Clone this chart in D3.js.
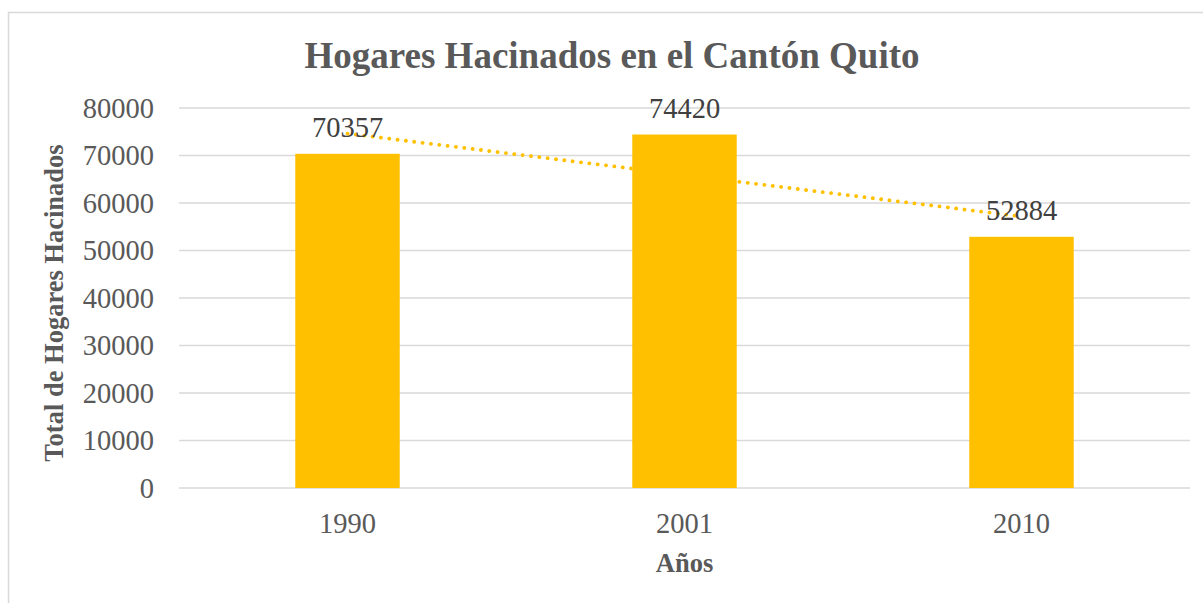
<!DOCTYPE html>
<html>
<head>
<meta charset="utf-8">
<script src="https://cdn.jsdelivr.net/npm/d3@7"></script>
<style>
  body { margin: 0; background: #fff; }
  svg { display: block; }
  text { font-family: "Liberation Serif", "Times New Roman", serif; }
</style>
</head>
<body>
<svg width="1203" height="603"></svg>
<script>
// data
let years = ["1990", "2001", "2010"]
let hogares = [70357, 74420, 52884]
let trendEnds = [74620, 57150] // excel linear trendline, first and last year
let yTicks = [0, 10000, 20000, 30000, 40000, 50000, 60000, 70000, 80000]

let svg = d3.select("svg")
let margin = {left: 179, right: 1190, top: 108, bottom: 488}

// chart frame
svg.append("rect")
    .attr("x", 8.5).attr("y", 12.5)
    .attr("width", 1203).attr("height", 610)
    .attr("fill", "none")
    .attr("stroke", "#d9d9d9")
    .attr("stroke-width", 1.5)

let x = d3.scaleBand()
    .domain(years)
    .range([margin.left, margin.right])
    .paddingInner(0.69)
    .paddingOuter(0.345)

let y = d3.scaleLinear()
    .domain([0, 80000])
    .range([margin.bottom, margin.top])

// gridlines
svg.append("g")
    .selectAll("line")
    .data(yTicks)
    .join("line")
    .attr("x1", margin.left).attr("x2", margin.right)
    .attr("y1", d => y(d)).attr("y2", d => y(d))
    .attr("stroke", "#d9d9d9")
    .attr("stroke-width", 1.5)

// y axis labels
let yAxis = svg.append("g")
    .attr("transform", `translate(${margin.left - 25},0)`)
    .call(d3.axisLeft(y).tickValues(yTicks).tickSize(0).tickPadding(0).tickFormat(d3.format("d")))
yAxis.select(".domain").remove()
yAxis.selectAll("text")
    .attr("font-size", 28.5)
    .attr("fill", "#595959")
    .attr("dy", "0.33em")

// x axis labels
let xAxis = svg.append("g")
    .attr("transform", `translate(0,${margin.bottom})`)
    .call(d3.axisBottom(x).tickSize(0).tickPadding(0))
xAxis.select(".domain").remove()
xAxis.selectAll("text")
    .attr("font-size", 28.5)
    .attr("fill", "#595959")
    .attr("dy", null)
    .attr("y", 45)

// bars
svg.append("g")
    .selectAll("rect")
    .data(hogares)
    .join("rect")
    .attr("x", (d, i) => x(years[i]))
    .attr("y", d => y(d))
    .attr("width", x.bandwidth())
    .attr("height", d => y(0) - y(d))
    .attr("fill", "#ffc000")

// trendline
let trendX = [years[0], years[years.length - 1]]
svg.append("path")
    .datum(trendEnds)
    .attr("d", d3.line()
        .x((d, i) => x(trendX[i]) + x.bandwidth() / 2)
        .y(d => y(d)))
    .attr("fill", "none")
    .attr("stroke", "#ffc000")
    .attr("stroke-width", 3.8)
    .attr("stroke-linecap", "round")
    .attr("stroke-dasharray", "0.1 8.3")

// value labels
svg.append("g")
    .selectAll("text")
    .data(hogares)
    .join("text")
    .attr("x", (d, i) => x(years[i]) + x.bandwidth() / 2)
    .attr("y", d => y(d) - 17)
    .attr("text-anchor", "middle")
    .attr("font-size", 28.5)
    .attr("fill", "#404040")
    .text(d => d)

// title
svg.append("text")
    .attr("x", 612).attr("y", 68)
    .attr("text-anchor", "middle")
    .attr("font-size", 37)
    .attr("font-weight", "bold")
    .attr("fill", "#595959")
    .text("Hogares Hacinados en el Cantón Quito")

// axis titles
svg.append("text")
    .attr("transform", "translate(63,303) rotate(-90)")
    .attr("text-anchor", "middle")
    .attr("font-size", 26.5)
    .attr("font-weight", "bold")
    .attr("fill", "#595959")
    .text("Total de Hogares Hacinados")

svg.append("text")
    .attr("x", x("2001") + x.bandwidth() / 2).attr("y", 572)
    .attr("text-anchor", "middle")
    .attr("font-size", 26.5)
    .attr("font-weight", "bold")
    .attr("fill", "#595959")
    .text("Años")
</script>
</body>
</html>
